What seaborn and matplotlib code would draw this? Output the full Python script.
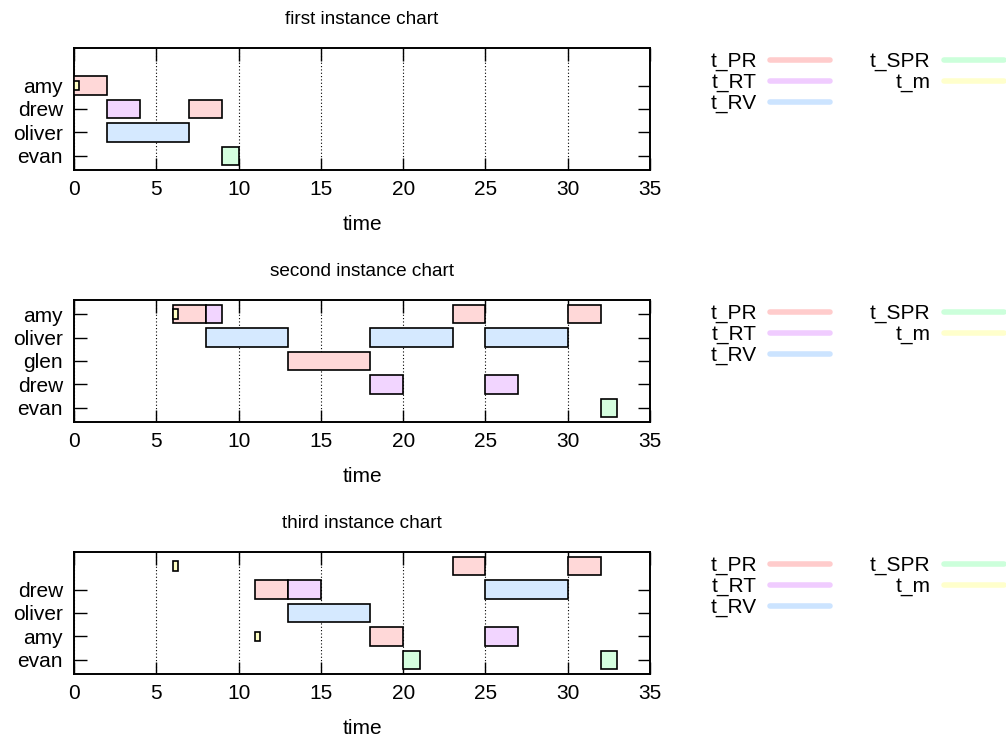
import numpy as np
import pandas as pd
import matplotlib
matplotlib.use("Agg")
import matplotlib.pyplot as plt
from matplotlib.lines import Line2D
import seaborn as sns

# ---- data ----
tasks = ["t_PR", "t_RT", "t_RV", "t_SPR", "t_m"]
task_colors = ["#ffd8d8", "#f2d5ff", "#d5e9ff", "#d5ffdf", "#ffffc4"]
legend_colors = ["#ffcccc", "#f0ccff", "#cce4ff", "#ccffdb", "#ffffcc"]

titles = ["first instance chart", "second instance chart", "third instance chart"]

# rows from bottom to top ("" = unlabeled row)
rows1 = ["evan", "oliver", "drew", "amy"]
who1 = ["amy", "drew", "drew", "oliver", "evan", "amy"]
task1 = ["t_PR", "t_RT", "t_PR", "t_RV", "t_SPR", "t_m"]
start1 = [0, 2, 7, 2, 9, 0]
end1 = [2, 4, 9, 7, 10, 0.3]

rows2 = ["evan", "drew", "glen", "oliver", "amy"]
who2 = ["amy", "amy", "amy", "amy", "oliver", "oliver", "oliver", "glen",
        "drew", "drew", "evan", "amy"]
task2 = ["t_PR", "t_RT", "t_PR", "t_PR", "t_RV", "t_RV", "t_RV", "t_PR",
         "t_RT", "t_RT", "t_SPR", "t_m"]
start2 = [6, 8, 23, 30, 8, 18, 25, 13, 18, 25, 32, 6]
end2 = [8, 9, 25, 32, 13, 23, 30, 18, 20, 27, 33, 6.3]

rows3 = ["evan", "amy", "oliver", "drew", ""]
who3 = ["", "", "drew", "drew", "drew", "oliver", "amy", "amy", "evan", "evan",
        "", "amy"]
task3 = ["t_PR", "t_PR", "t_PR", "t_RT", "t_RV", "t_RV", "t_PR", "t_RT",
         "t_SPR", "t_SPR", "t_m", "t_m"]
start3 = [23, 30, 11, 13, 25, 13, 18, 25, 20, 32, 6, 11]
end3 = [25, 32, 13, 15, 30, 18, 20, 27, 21, 33, 6.3, 11.3]

charts = [
    (rows1, who1, task1, start1, end1),
    (rows2, who2, task2, start2, end2),
    (rows3, who3, task3, start3, end3),
]

sns.set_style("ticks")
plt.rcParams["font.family"] = ["Liberation Sans", "DejaVu Sans"]
fs = 15
plt.rcParams.update({"font.size": fs, "text.color": "black",
                     "axes.labelcolor": "black", "xtick.color": "black",
                     "ytick.color": "black", "axes.edgecolor": "black"})

fig = plt.figure(figsize=(10.06, 7.38), dpi=100)
W, H = 1006, 738
# axes boxes in pixels: (top, bottom)
boxes = [(48, 170), (300, 422), (552, 674)]
x0, x1 = 74, 650

color_of = dict(zip(tasks, task_colors))

for (rows, who, task, start, end), title, (top, bot) in zip(charts, titles, boxes):
    ax = fig.add_axes([x0 / W, 1 - bot / H, (x1 - x0) / W, (bot - top) / H])
    df = pd.DataFrame({"who": who, "task": task, "start": start, "end": end})
    df["row"] = df["who"].map({r: i for i, r in enumerate(rows)})
    df["small"] = df["task"] == "t_m"
    for small, sub in df.groupby("small"):
        ax.barh(sub["row"], sub["end"] - sub["start"], left=sub["start"],
                height=0.42 if small else 0.8,
                color=[color_of[t] for t in sub["task"]],
                edgecolor="black", linewidth=1.2, zorder=3 + small)

    ax.set_xlim(0, 35)
    ax.set_ylim(-0.6, 4.6)
    ax.set_xticks(np.arange(0, 36, 5))
    ticks = [i for i, r in enumerate(rows) if r]
    ax.set_yticks(ticks)
    ax.set_yticklabels([rows[i] for i in ticks])
    ax.tick_params(direction="in", length=9, width=1, top=True, right=True,
                   labelsize=fs)
    ax.tick_params(axis="y", pad=8)
    ax.tick_params(axis="x", pad=7)
    ax.xaxis.grid(True, linestyle=(0, (1, 2)), color="black", linewidth=0.8)
    ax.set_axisbelow(True)
    for s in ax.spines.values():
        s.set_linewidth(1.4)
        s.set_visible(True)
    ax.set_xlabel("time", labelpad=12)
    ax.set_title(title, pad=17, fontsize=fs - 1.3)

    handles = [Line2D([], [], color=c, lw=4) for c in legend_colors]
    ax.legend(handles, tasks, loc="upper right",
              bbox_to_anchor=(1004 / W, 1 - (top + 4) / H),
              bbox_transform=fig.transFigure, ncol=2, markerfirst=False,
              frameon=False, handlelength=2.9, handletextpad=0.62,
              columnspacing=1.9, labelspacing=0.08, borderpad=0,
              borderaxespad=0, fontsize=fs)

fig.savefig("out.png", dpi=100)
